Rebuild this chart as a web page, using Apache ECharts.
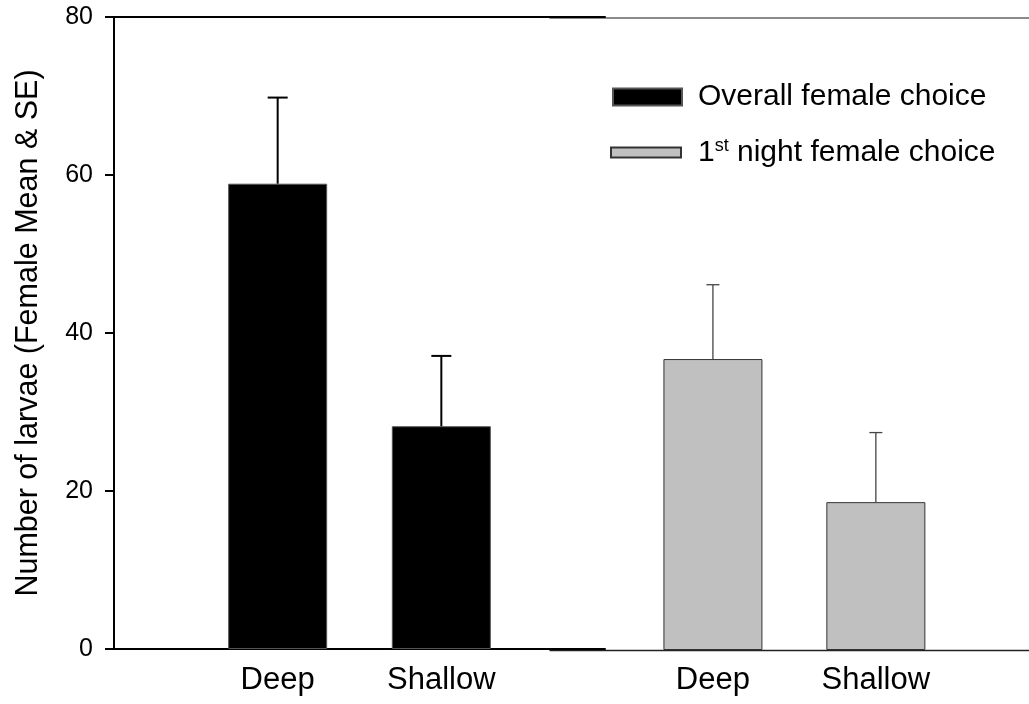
<!DOCTYPE html>
<html>
<head>
<meta charset="utf-8">
<style>
  html, body { margin: 0; padding: 0; background: #fff; }
  #chart { width: 1029px; height: 704px; }
</style>
<script src="https://cdn.jsdelivr.net/npm/echarts@6/dist/echarts.min.js"></script>
</head>
<body>
<div id="chart"></div>
<script>
// Larval counts per female, oviposition site depth
const categories = ['Deep', 'Shallow'];
const overallMean = [58.9, 28.2];
const overallSE = [10.9, 8.9];
const firstNightMean = [36.8, 18.7];
const firstNightSE = [9.4, 8.8];
const yTicks = { min: 0, max: 80, interval: 20 };

const FONT = 'Liberation Sans, Arial, sans-serif';
// Left panel: category axis with an empty slot either side, bars at 1/3 and 2/3
const axisCats = [''].concat(categories, ['']);
const pad = arr => [null].concat(arr, [null]);
// Right panel: numeric position axis that runs off the right edge of the canvas
const posData = arr => arr.map((v, i) => [i + 1, v]);

function errorBarSeries(name, means, ses, xIdx, yIdx, color, width, half) {
  const data = means.map((m, i) => [i + 1, m, m + ses[i]]);
  return {
    type: 'custom',
    name: name,
    xAxisIndex: xIdx,
    yAxisIndex: yIdx,
    silent: true,
    z: 5,
    data: data,
    renderItem: function (params, api) {
      const base = api.coord([api.value(0), api.value(1)]);
      const top = api.coord([api.value(0), api.value(2)]);
      const style = { stroke: color, lineWidth: width };
      return {
        type: 'group',
        children: [
          { type: 'line', shape: { x1: base[0], y1: base[1], x2: top[0], y2: top[1] }, style: style },
          { type: 'line', shape: { x1: top[0] - half, y1: top[1], x2: top[0] + half, y2: top[1] }, style: style }
        ]
      };
    }
  };
}

const chart = echarts.init(document.getElementById('chart'), null, { renderer: 'canvas' });

const rightAxisBase = {
  type: 'value', gridIndex: 1, min: 0, max: 2.94, interval: 1, z: 0,
  axisTick: { show: false }, splitLine: { show: false }
};

const option = {
  animation: false,
  backgroundColor: '#ffffff',
  textStyle: { fontFamily: FONT },
  grid: [
    { left: 114, top: 17, width: 491, height: 632 },
    { left: 550, top: 17.5, right: 0, height: 632.5 }
  ],
  legend: [
    {
      data: [{ name: 'Overall female choice', icon: 'rect' }],
      left: 607, top: 77,
      itemWidth: 69, itemHeight: 17,
      selectedMode: false,
      textStyle: { fontFamily: FONT, fontSize: 30, color: '#000', padding: [0, 0, 0, 11] }
    },
    {
      data: [{ name: '1st night female choice', icon: 'rect' }],
      left: 605, top: 132,
      itemWidth: 70, itemHeight: 10,
      selectedMode: false,
      formatter: function () { return '1{sup|st} night female choice'; },
      textStyle: {
        fontFamily: FONT, fontSize: 30, color: '#000', padding: [0, 0, 0, 12],
        rich: {
          sup: { fontFamily: FONT, fontSize: 18, color: '#000', verticalAlign: 'bottom', padding: [0, 0, 13, 0] }
        }
      }
    }
  ],
  xAxis: [
    {
      type: 'category', gridIndex: 0, data: axisCats, boundaryGap: false, z: 2,
      axisLine: { show: true, onZero: false, lineStyle: { color: '#000', width: 2 } },
      axisTick: { show: false },
      axisLabel: { fontFamily: FONT, fontSize: 31, color: '#000', margin: 16 },
      splitLine: { show: false }
    },
    Object.assign({}, rightAxisBase, {
      axisLine: { show: true, onZero: false, lineStyle: { color: '#222', width: 1.3 } },
      axisLabel: {
        fontFamily: FONT, fontSize: 31, color: '#000', margin: 15,
        showMinLabel: false, showMaxLabel: false,
        formatter: function (v) { return categories[v - 1] || ''; }
      }
    }),
    Object.assign({}, rightAxisBase, {
      position: 'top',
      axisLine: { show: true, onZero: false, lineStyle: { color: '#666', width: 1.5 } },
      axisLabel: { show: false }
    }),
    {
      type: 'category', gridIndex: 0, data: axisCats, boundaryGap: false, position: 'top', z: 2,
      axisLine: { show: true, onZero: false, lineStyle: { color: '#000', width: 2 } },
      axisTick: { show: false }, axisLabel: { show: false }, splitLine: { show: false }
    }
  ],
  yAxis: [
    {
      type: 'value', gridIndex: 0,
      min: yTicks.min, max: yTicks.max, interval: yTicks.interval,
      name: 'Number of larvae (Female Mean & SE)',
      nameLocation: 'middle', nameRotate: 90, nameGap: 70,
      nameTextStyle: { fontFamily: FONT, fontSize: 30.5, color: '#000' },
      axisLine: { show: true, lineStyle: { color: '#000', width: 2 } },
      axisTick: { show: true, inside: false, length: 9, lineStyle: { color: '#000', width: 2 } },
      axisLabel: { fontFamily: FONT, fontSize: 25, color: '#000', margin: 21 },
      splitLine: { show: false }
    },
    {
      type: 'value', gridIndex: 1,
      min: yTicks.min, max: yTicks.max, interval: yTicks.interval,
      show: false, splitLine: { show: false }
    }
  ],
  series: [
    {
      name: 'Overall female choice', type: 'bar',
      xAxisIndex: 0, yAxisIndex: 0,
      data: pad(overallMean), barWidth: 99,
      itemStyle: { color: '#000', borderColor: '#555', borderWidth: 1 },
      z: 3
    },
    {
      name: '1st night female choice', type: 'bar',
      xAxisIndex: 1, yAxisIndex: 1,
      data: posData(firstNightMean), barWidth: 99,
      itemStyle: { color: '#c0c0c0', borderColor: '#333', borderWidth: 1 },
      z: 3
    },
    errorBarSeries('overallSE', overallMean, overallSE, 0, 0, '#000', 2, 10),
    errorBarSeries('firstNightSE', firstNightMean, firstNightSE, 1, 1, '#444', 1.3, 6.5)
  ]
};

chart.setOption(option);
</script>
</body>
</html>
